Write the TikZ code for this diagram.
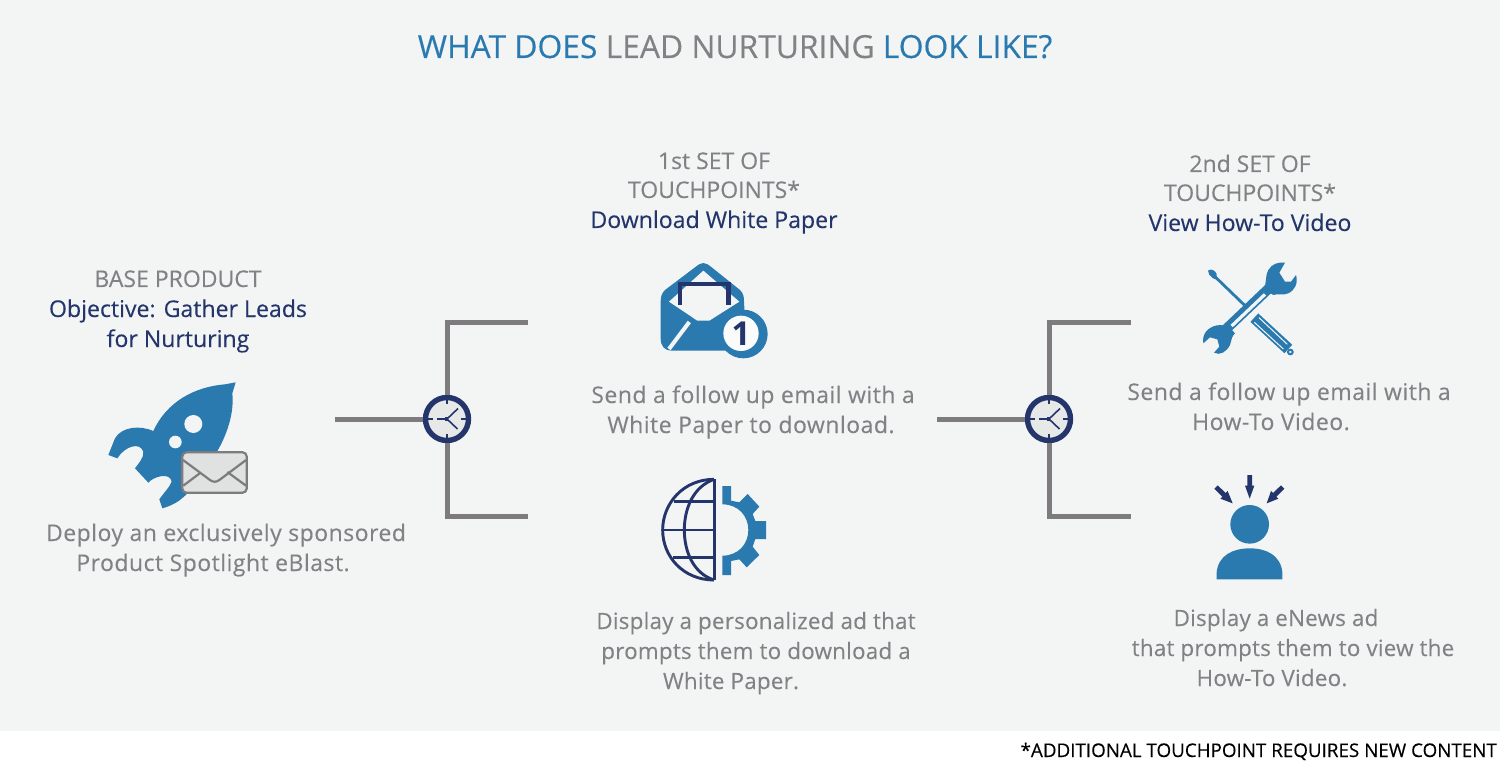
\documentclass[tikz,border=0pt]{standalone}
\usepackage{fontspec}
\usetikzlibrary{arrows.meta}
\setmainfont{Open Sans}
\newfontfamily\spaced[LetterSpace=2.1,FakeBold=0.25]{Open Sans}
\newfontfamily\tighter[LetterSpace=1,FakeBold=0.25]{Open Sans}
\newfontfamily\plainw[FakeBold=0.25]{Open Sans}
\definecolor{bgc}{HTML}{F3F5F5}
\definecolor{iblue}{HTML}{2A7AB0}
\definecolor{navy}{HTML}{24356B}
\definecolor{tgray}{HTML}{808285}
\definecolor{lgray}{HTML}{7D7B7E}
\tikzset{
  x=1pt,y=-1pt,
  body/.style={anchor=base,inner sep=0pt,text=tgray,font=\spaced\fontsize{23}{23}\selectfont},
  bodyb/.style={anchor=base,inner sep=0pt,text=tgray,font=\tighter\fontsize{22.4}{23}\selectfont},
  head/.style={anchor=base,inner sep=0pt,text=tgray,font=\plainw\fontsize{23}{23}\selectfont},
  obj/.style={anchor=base,inner sep=0pt,text=navy,font=\plainw\fontsize{23.1}{23}\selectfont},
  wire/.style={draw=lgray,line width=5pt,line cap=butt,line join=miter},
  clockc/.style={circle,draw=navy,fill=bgc!90!lgray,line width=5.4pt,minimum size=43pt,inner sep=0pt},
  zoomed/.style={x=0.33333pt,y=-0.33333pt},
  pics/clockface/.style={code={
    \draw[navy,line width=1.4pt] (0,-20) -- (0,-15) (0,15) -- (0,20) (-19,0) -- (-14,0) (14,0) -- (19,0);
    \draw[navy,line width=1.6pt] (-10,0) -- (0,0) -- (11,-10.5) (0,0) -- (10.5,10);
    \fill[navy] (-2.5,-1.6) rectangle (0.8,1.6);
  }}
}
\begin{document}
\begin{tikzpicture}
\useasboundingbox (0,0) rectangle (1500,762);
\fill[white] (0,0) rectangle (1500,762);
\fill[bgc] (0,0) rectangle (1500,731);

% title
\node[anchor=base,inner sep=0pt,font=\plainw\fontsize{31.8}{31}\selectfont] (title) at (735,58)
  {\textcolor{iblue}{WHAT DOES} \textcolor{tgray}{LEAD NURTURING} \textcolor{iblue}{LOOK LIKE?}};

% connectors
\node[clockc] (clk1) at (447,419) {};
\node[clockc] (clk2) at (1049,419) {};
\pic at (clk1.center) {clockface};
\pic at (clk2.center) {clockface};
\coordinate (in1) at (335,419);
\coordinate (t1) at (528,322);
\coordinate (b1) at (528,516);
\coordinate (in2) at (937,419);
\coordinate (t2) at (1131,322);
\coordinate (b2) at (1131,516);
\draw[wire] (in1) -- (clk1);
\draw[wire] (clk1) |- (t1);
\draw[wire] (clk1) |- (b1);
\draw[wire] (in2) -- (clk2);
\draw[wire] (clk2) |- (t2);
\draw[wire] (clk2) |- (b2);

% left column
\node[head] (a1) at (178,287) {BASE PRODUCT};
\node[obj] (a2) at (178,317) {Objective: Gather Leads};
\node[obj] (a3) at (178,347) {for Nurturing};
\node[body] (a4) at (226,541) {Deploy an exclusively sponsored};
\node[body] (a5) at (213,571) {Product Spotlight eBlast.};

% middle column
\node[head] (b1a) at (714,169) {1st SET OF};
\node[head] (b2a) at (714,198) {TOUCHPOINTS*};
\node[obj] (b3a) at (714,228) {Download White Paper};
\node[body] (b4a) at (753,403) {Send a follow up email with a};
\node[body] (b5a) at (751,433) {White Paper to download.};
\node[bodyb] (b6a) at (756,629) {Display a personalized ad that};
\node[bodyb] (b7a) at (756,659) {prompts them to download a};
\node[bodyb] (b8a) at (731,689) {White Paper.};

% right column
\node[head] (c1) at (1250,172) {2nd SET OF};
\node[head] (c2) at (1250,201) {TOUCHPOINTS*};
\node[obj] (c3) at (1250,231) {View How-To Video};
\node[body] (c4) at (1289,400) {Send a follow up email with a};
\node[body] (c5) at (1271,430) {How-To Video.};
\node[bodyb] (c6) at (1276,626) {Display a eNews ad};
\node[bodyb] (c7) at (1293,656) {that prompts them to view the};
\node[bodyb] (c8) at (1272,686) {How-To Video.};

\node[anchor=base east,inner sep=0pt,text=black,font=\plainw\fontsize{18.8}{18.5}\selectfont] (foot) at (1497,757) {*ADDITIONAL TOUCHPOINT REQUIRES NEW CONTENT};

% rocket
\begin{scope}[shift={(90,370)},zoomed]
\fill[iblue] (437,37) -- (405,43) .. controls (315,50) and (230,95) .. (190,183)
  .. controls (150,165) and (95,170) .. (75,205) -- (55,255) -- (82,265)
  .. controls (105,228) and (150,215) .. (160,245) .. controls (162,265) and (145,280) .. (135,295) -- (175,338)
  .. controls (190,320) and (240,305) .. (245,335) .. controls (240,350) and (220,370) .. (208,388) -- (217,415)
  .. controls (270,400) and (300,370) .. (325,320)
  .. controls (400,240) and (435,140) .. (427,70) -- cycle;
\fill[bgc] (310,162) circle[radius=27];
\fill[bgc] (256,216) circle[radius=19];
\draw[draw=lgray,fill=bgc!92!black,line width=2.2pt,rounded corners=4pt] (277,247) rectangle (470,368);
\draw[lgray,line width=2.2pt,line join=round] (279,270) -- (360,330) .. controls (370,337) and (378,337) .. (388,330) -- (468,270);
\draw[lgray,line width=2.2pt] (280,347) -- (332,308) (468,347) -- (412,306);
\end{scope}

% mail icon
\begin{scope}[shift={(640,250)},zoomed]
\fill[iblue] (190,39) .. controls (180,39) and (175,45) .. (165,52) -- (75,120) .. controls (65,130) and (62,140) .. (62,155)
  -- (62,265) .. controls (62,290) and (75,302) .. (95,302) -- (320,302) -- (312,155) .. controls (312,140) and (310,130) .. (300,120) -- (215,52) .. controls (205,45) and (200,39) .. (190,39) -- cycle;
\fill[bgc] (190,62) -- (87,155) -- (172,212) -- (208,212) -- (298,155) -- cycle;
\draw[navy,line width=4.6pt,line join=miter] (120,165) -- (120,102) -- (265,102) -- (265,165);
\draw[bgc,line width=4pt] (148,216) -- (87,297);
\fill[iblue] (310,252) circle[radius=73];
\fill[bgc!40!white] (303,250) circle[radius=53];
\node[inner sep=0pt,text=navy,font=\bfseries\fontsize{33}{33}\selectfont] (one) at (303,250) {1};
\end{scope}

% globe gear
\begin{scope}[shift={(640,470)},zoomed]
\draw[navy,line width=2.9pt] (222,330) .. controls (130,330) and (68,260) .. (68,180) .. controls (68,100) and (130,28) .. (222,28);
\draw[navy,line width=2.9pt] (222,28) .. controls (160,50) and (133,115) .. (133,180) .. controls (133,245) and (160,310) .. (222,330);
\draw[navy,line width=3pt] (222,27) -- (222,331);
\draw[navy,line width=2.7pt] (103,95) -- (222,95) (68,180) -- (222,180) (100,262) -- (222,262);
\fill[iblue] (247,48) -- (273,48) -- (273,92) -- (298,97) -- (323,72) -- (358,110) -- (338,132) -- (346,153) -- (378,153) -- (378,207) -- (346,207) -- (338,230) -- (358,255) -- (320,292) -- (298,268) -- (273,273) -- (273,315) -- (247,315)
 -- (247,257) .. controls (295,257) and (325,222) .. (325,180) .. controls (325,138) and (295,103) .. (247,103) -- cycle;
\end{scope}

% tools
\begin{scope}[shift={(1190,250)},zoomed]
\draw[iblue,line width=2.8pt] (75,80) -- (165,167);
\fill[iblue] (54,62) .. controls (62,55) and (75,60) .. (80,72) .. controls (82,78) and (80,84) .. (76,88) -- (68,84) .. controls (60,78) and (54,72) .. (54,62) -- cycle;
\draw[iblue,line width=11.5pt] (193,203) -- (295,297);
\draw[bgc,line width=1pt] (207,203) -- (292,283) (193,217) -- (280,297);
\draw[iblue,line width=2pt,fill=bgc] (301,306) circle[radius=7];
\draw[iblue,line width=10pt] (100,245) -- (240,112);
\draw[bgc,line width=3.2pt] (125,228) -- (225,133);
\fill[iblue] (222,118) .. controls (230,100) and (225,75) .. (235,60) .. controls (245,42) and (265,35) .. (285,38) -- (268,68) -- (285,95) -- (303,95) -- (318,75) .. controls (325,100) and (315,120) .. (295,130) .. controls (280,137) and (262,130) .. (250,135) -- cycle;
\fill[iblue] (118,232) .. controls (110,225) and (95,225) .. (80,226) .. controls (55,232) and (35,250) .. (40,280) -- (60,262) -- (82,268) -- (88,290) -- (72,308) .. controls (90,318) and (110,305) .. (120,285) .. controls (125,270) and (125,258) .. (135,250) -- cycle;
\end{scope}

% person
\begin{scope}[shift={(1200,465)},zoomed]
\fill[iblue] (149,178) circle[radius=58];
\fill[iblue] (50,343) -- (50,322) .. controls (55,270) and (100,250) .. (149,250) .. controls (198,250) and (242,270) .. (247,322) -- (247,343) -- cycle;
\fill[navy] (142,30) -- (156,30) -- (156,62) -- (163,62) -- (149,101) -- (135,62) -- (142,62) -- cycle;
\fill[navy] (53,61) -- (43,71) -- (67,95) -- (61,101) -- (98,115) -- (83,78) -- (77,84) -- cycle;
\fill[navy] (243,61) -- (253,71) -- (229,95) -- (235,101) -- (200,115) -- (213,78) -- (219,84) -- cycle;
\end{scope}
\end{tikzpicture}
\end{document}
